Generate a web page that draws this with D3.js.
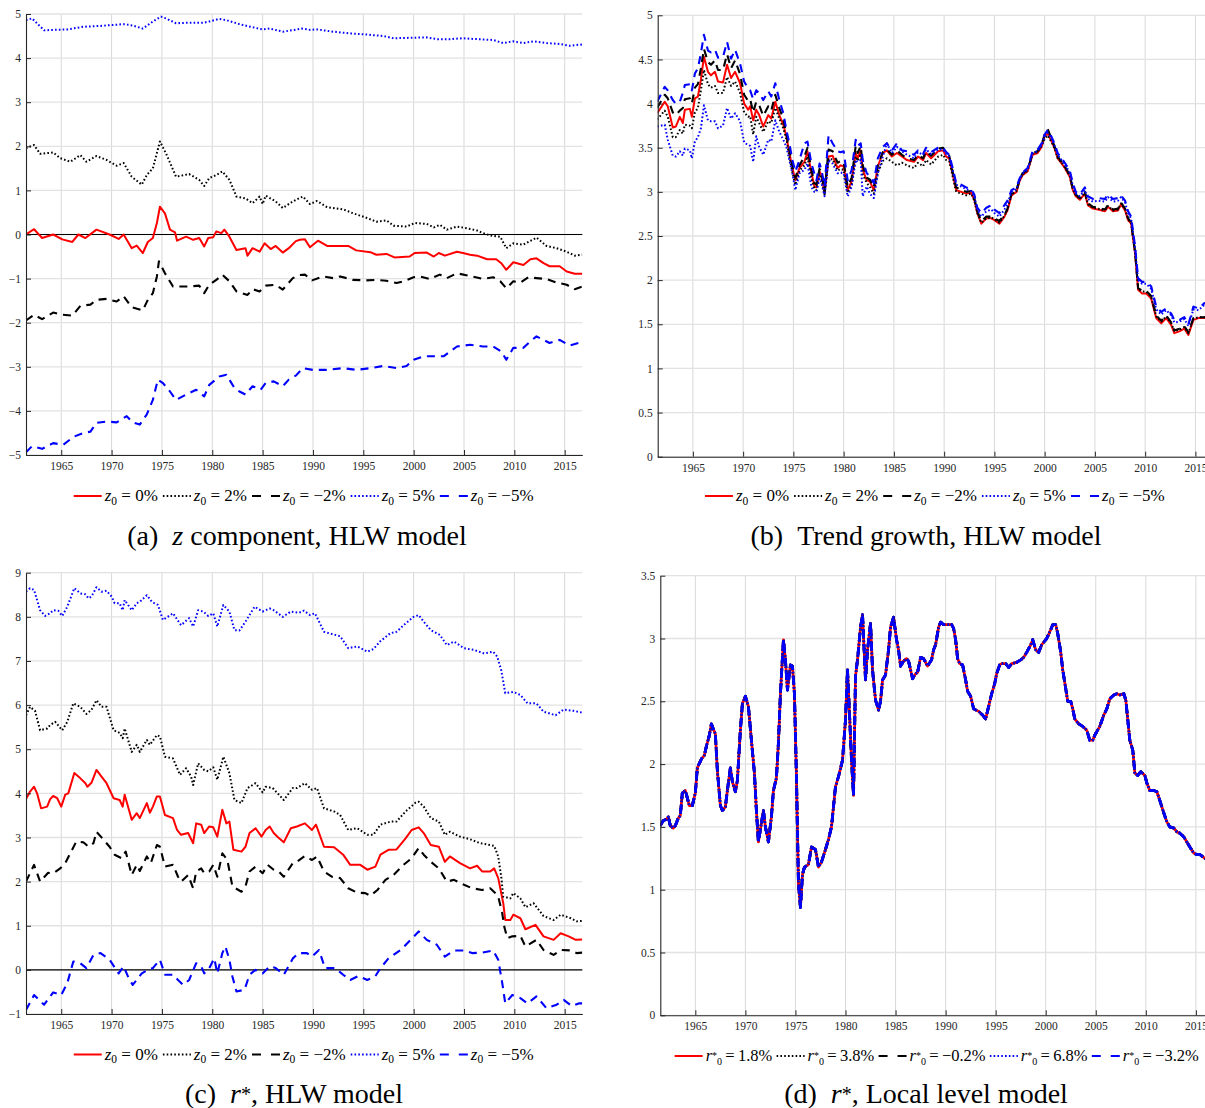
<!DOCTYPE html>
<html><head><meta charset="utf-8">
<script src="https://cdn.jsdelivr.net/npm/d3@7"></script>
<style>
body{margin:0;background:#fff;}
svg{display:block;font-family:"Liberation Serif","Times New Roman",serif;}
</style></head><body>
<svg id="fig" width="1205" height="1108"></svg>
<script>
// ---------- shared axes ----------
const xDomain = [1961.5, 2016.75];
const yearTicks = [1965,1970,1975,1980,1985,1990,1995,2000,2005,2010,2015];
const ticksA = [-5,-4,-3,-2,-1,0,1,2,3,4,5];
const ticksB = [0,0.5,1,1.5,2,2.5,3,3.5,4,4.5,5];
const ticksC = [-1,0,1,2,3,4,5,6,7,8,9];
const ticksD = [0,0.5,1,1.5,2,2.5,3,3.5];
const zLabels = ["0%","2%","\u22122%","5%","\u22125%"];
const rLabels = ["1.8%","3.8%","\u22120.2%","6.8%","\u22123.2%"];

// ---------- (a) z component, HLW model : [year, value] ----------
const aZ0 = [[1961.5,0],[1962.3,0.12],[1963.1,-0.08],[1964.2,0],[1965.1,-0.11],[1966.1,-0.17],[1966.7,0],[1967.4,-0.08],[1968.5,0.11],[1969.8,0],[1970.7,-0.1],[1971.2,0],[1972,-0.31],[1972.5,-0.25],[1973.1,-0.42],[1973.6,-0.17],[1974.1,-0.08],[1974.5,0.26],[1974.8,0.63],[1975.3,0.48],[1975.8,0.11],[1976.3,0.05],[1976.5,-0.14],[1977.4,-0.05],[1978.1,-0.12],[1978.7,-0.08],[1979.2,-0.27],[1979.6,-0.08],[1980.1,-0.06],[1980.4,0.07],[1980.9,0.03],[1981.2,0.11],[1981.7,-0.05],[1982.4,-0.35],[1983.3,-0.31],[1983.5,-0.48],[1984,-0.31],[1984.7,-0.39],[1985.2,-0.2],[1985.8,-0.33],[1986.3,-0.26],[1987,-0.41],[1987.6,-0.31],[1988.3,-0.15],[1988.7,-0.12],[1989.2,-0.11],[1989.7,-0.29],[1990.5,-0.14],[1991.4,-0.26],[1992.4,-0.26],[1993.5,-0.26],[1994.3,-0.36],[1995.7,-0.4],[1996.3,-0.46],[1997.3,-0.44],[1998.1,-0.52],[1999.6,-0.5],[2000.1,-0.42],[2001.3,-0.41],[2002,-0.5],[2002.5,-0.42],[2003.1,-0.48],[2004.3,-0.39],[2004.9,-0.42],[2005.6,-0.46],[2006.3,-0.48],[2007.3,-0.56],[2008.2,-0.56],[2008.7,-0.65],[2009.2,-0.8],[2009.9,-0.63],[2010.9,-0.69],[2011.6,-0.56],[2012.2,-0.54],[2012.9,-0.65],[2013.5,-0.72],[2014.5,-0.72],[2015.2,-0.84],[2016,-0.89],[2016.75,-0.89]];
const aZ2 = [[1961.5,1.96],[1962.3,2.03],[1962.9,1.83],[1964.2,1.86],[1964.9,1.73],[1965.9,1.65],[1966.9,1.8],[1967.5,1.65],[1968.5,1.78],[1969.5,1.69],[1970.5,1.56],[1971.2,1.62],[1972,1.31],[1973,1.13],[1973.5,1.35],[1974.1,1.5],[1974.8,2.11],[1975.4,1.84],[1976.4,1.31],[1977.7,1.37],[1978.7,1.24],[1979.2,1.1],[1979.7,1.28],[1980.4,1.35],[1981,1.43],[1981.7,1.24],[1982.4,0.86],[1983.3,0.82],[1984,0.71],[1984.7,0.86],[1985,0.69],[1985.3,0.88],[1986.3,0.75],[1987,0.6],[1988,0.75],[1988.6,0.82],[1989,0.86],[1989.7,0.69],[1990.4,0.76],[1991.4,0.62],[1993,0.57],[1994,0.48],[1995.3,0.38],[1996.3,0.29],[1997.3,0.32],[1998,0.2],[1999.3,0.18],[2000.1,0.26],[2001.3,0.24],[2002,0.16],[2002.6,0.22],[2003.3,0.11],[2004.3,0.18],[2005.3,0.14],[2006.3,0.09],[2006.9,0.03],[2007.6,-0.02],[2008.6,-0.05],[2009.2,-0.31],[2009.9,-0.2],[2010.9,-0.23],[2012.2,-0.07],[2013.2,-0.26],[2014.2,-0.31],[2015.2,-0.39],[2016,-0.48],[2016.75,-0.46]];
const aZm2 = [[1961.5,-1.95],[1962.3,-1.82],[1963.1,-1.92],[1964.2,-1.77],[1965.1,-1.82],[1966.1,-1.84],[1966.9,-1.62],[1967.9,-1.59],[1968.5,-1.48],[1969.5,-1.46],[1970.5,-1.52],[1971.2,-1.4],[1972,-1.65],[1973.1,-1.72],[1973.6,-1.48],[1974.1,-1.33],[1974.5,-0.95],[1974.7,-0.61],[1975.3,-0.88],[1976.1,-1.18],[1976.9,-1.18],[1977.7,-1.18],[1978.7,-1.16],[1979.2,-1.33],[1979.7,-1.14],[1980.4,-1.03],[1981,-0.91],[1981.7,-1.06],[1982.4,-1.29],[1983.5,-1.37],[1984,-1.24],[1984.7,-1.29],[1985.3,-1.16],[1986.3,-1.14],[1987,-1.25],[1988,-0.99],[1988.6,-0.92],[1989.2,-0.91],[1989.9,-1.04],[1991,-0.95],[1992,-0.99],[1992.7,-0.95],[1994,-1.03],[1995.3,-1.04],[1996.3,-1.03],[1997.3,-1.05],[1998.3,-1.1],[1999,-1.06],[2000,-0.97],[2000.6,-0.95],[2001.6,-1.01],[2002.6,-0.91],[2003.3,-0.99],[2004.3,-0.88],[2005.6,-0.94],[2006.9,-1.01],[2007.9,-0.97],[2008.6,-1.06],[2009.2,-1.22],[2009.9,-1.06],[2010.6,-1.09],[2011.4,-0.97],[2012.2,-0.99],[2013.2,-1.01],[2014.2,-1.09],[2015.2,-1.14],[2016,-1.24],[2016.75,-1.18]];
const aZ5 = [[1961.5,4.86],[1962.1,4.9],[1963.3,4.63],[1964.2,4.64],[1965.6,4.65],[1967.2,4.71],[1968.9,4.73],[1971.2,4.77],[1972.1,4.74],[1973.1,4.67],[1974.1,4.83],[1974.9,4.94],[1975.4,4.9],[1976.4,4.79],[1977.4,4.8],[1979.1,4.8],[1979.7,4.83],[1980.7,4.89],[1981.4,4.86],[1982.7,4.77],[1984,4.7],[1985,4.65],[1985.7,4.67],[1987,4.6],[1987.6,4.62],[1988.9,4.67],[1989.7,4.64],[1990.4,4.65],[1992,4.6],[1993.7,4.56],[1995,4.54],[1997,4.5],[1998,4.45],[1999.6,4.46],[2001.3,4.47],[2002.3,4.43],[2003.6,4.43],[2004.9,4.45],[2006.3,4.43],[2007.9,4.41],[2008.9,4.34],[2009.9,4.38],[2010.9,4.34],[2011.9,4.38],[2013.2,4.34],[2014.5,4.32],[2015.5,4.28],[2016.75,4.31]];
const aZm5 = [[1961.5,-4.94],[1962.1,-4.8],[1963.1,-4.86],[1964.2,-4.73],[1965.2,-4.77],[1966.2,-4.59],[1967.2,-4.5],[1967.9,-4.47],[1968.5,-4.27],[1969.5,-4.24],[1970.5,-4.26],[1971.5,-4.12],[1972.1,-4.26],[1972.8,-4.31],[1973.5,-4.08],[1974.1,-3.75],[1974.6,-3.29],[1975.1,-3.37],[1975.8,-3.56],[1976.4,-3.75],[1977.4,-3.63],[1978.4,-3.52],[1979.2,-3.67],[1979.7,-3.41],[1980.7,-3.22],[1981.4,-3.18],[1982.2,-3.48],[1982.7,-3.56],[1983.3,-3.63],[1984,-3.44],[1984.8,-3.52],[1985.3,-3.37],[1986.1,-3.33],[1987,-3.44],[1987.6,-3.29],[1988.3,-3.2],[1989,-3.03],[1990,-3.07],[1991.4,-3.07],[1993,-3.03],[1994.3,-3.07],[1995.7,-3.03],[1997,-2.98],[1998.3,-3.03],[1999.3,-2.98],[2000,-2.84],[2001,-2.76],[2002,-2.76],[2003,-2.76],[2004.3,-2.54],[2005.6,-2.5],[2006.9,-2.54],[2007.9,-2.54],[2008.7,-2.65],[2009.2,-2.84],[2009.9,-2.57],[2010.9,-2.57],[2011.6,-2.42],[2012.2,-2.31],[2013.5,-2.46],[2014.5,-2.39],[2015.5,-2.52],[2016.4,-2.46],[2016.75,-2.45]];

// ---------- (b) Trend growth, HLW model ----------
const bYears = [1961.45,1962.2,1962.5,1963,1963.3,1963.7,1964,1964.2,1964.7,1964.9,
1965.2,1965.5,1965.8,1966.1,1966.5,1966.8,1967.2,1967.5,1968,1968.4,
1968.8,1969.2,1969.7,1970.1,1970.5,1970.7,1971,1971.3,1971.6,1972,
1972.5,1972.8,1973.2,1973.6,1974,1974.3,1974.6,1974.9,1975.2,1975.6,
1976.1,1976.4,1976.8,1977.1,1977.3,1977.6,1977.8,1978.1,1978.5,1978.9,
1979.4,1979.7,1980,1980.4,1980.8,1981.2,1981.4,1981.7,1981.9,1982.3,
1982.6,1983,1983.4,1983.9,1984.3,1984.8,1985.3,1985.8,1986.3,1987,
1987.4,1987.9,1988.2,1988.7,1989.4,1989.9,1990.2,1990.5,1990.9,1991.2,
1991.7,1992.2,1992.7,1993,1993.3,1993.7,1994.2,1994.7,1995,1995.5,
1996,1996.3,1996.7,1997.2,1997.5,1997.8,1998.3,1998.8,1999.3,1999.7,
2000,2000.3,2000.7,2001,2001.3,2001.7,2002,2002.5,2002.8,2003.1,
2003.5,2004,2004.3,2004.8,2005.3,2006,2006.3,2006.8,2007.3,2007.6,
2008,2008.3,2008.6,2009,2009.3,2009.7,2010.1,2010.6,2011.1,2011.6,
2012.1,2012.6,2012.9,2013.4,2013.9,2014.3,2014.8,2015.3,2015.9,2016.75];
const bZ0 = [3.89,4.02,3.97,3.73,3.74,3.85,3.78,3.93,3.94,3.85,
4.06,4.08,4.27,4.53,4.36,4.32,4.36,4.25,4.24,4.44,
4.29,4.36,4.23,4.0,3.93,3.97,3.81,3.93,3.87,3.74,
3.87,3.83,4.02,3.87,3.76,3.63,3.44,3.27,3.13,3.27,
3.34,3.46,3.21,3.06,3.05,3.23,3.19,2.98,3.4,3.41,
3.27,3.3,3.29,3.02,3.12,3.44,3.38,3.47,3.25,3.13,
3.12,3.02,3.29,3.44,3.47,3.4,3.44,3.4,3.36,3.34,
3.4,3.36,3.44,3.38,3.46,3.47,3.4,3.38,3.17,3.02,
3.0,2.98,2.99,2.91,2.76,2.64,2.7,2.7,2.68,2.64,
2.72,2.79,2.96,3.0,3.12,3.19,3.23,3.42,3.44,3.51,
3.63,3.66,3.57,3.49,3.38,3.32,3.27,3.17,3.02,2.95,
2.91,2.98,2.85,2.81,2.8,2.78,2.83,2.78,2.79,2.86,
2.79,2.68,2.64,2.3,1.89,1.85,1.85,1.79,1.57,1.51,
1.57,1.49,1.4,1.42,1.45,1.38,1.55,1.57,1.57,1.57];
const bZ2 = [3.82,3.92,3.85,3.62,3.62,3.7,3.66,3.76,3.75,3.72,
3.9,3.95,4.15,4.38,4.22,4.18,4.2,4.12,4.12,4.3,
4.2,4.25,4.12,3.9,3.85,3.86,3.65,3.85,3.78,3.68,
3.8,3.78,3.95,3.83,3.72,3.6,3.4,3.22,3.08,3.24,
3.3,3.4,3.15,3.03,3.02,3.2,3.15,2.97,3.37,3.37,
3.24,3.26,3.25,2.99,3.08,3.4,3.35,3.43,3.2,3.1,
3.06,2.98,3.22,3.35,3.38,3.34,3.3,3.33,3.3,3.27,
3.33,3.29,3.36,3.31,3.4,3.42,3.36,3.35,3.15,3.0,
2.98,2.96,2.98,2.9,2.76,2.65,2.7,2.71,2.69,2.65,
2.73,2.8,2.97,3.01,3.13,3.2,3.24,3.43,3.45,3.52,
3.6,3.64,3.56,3.49,3.38,3.33,3.28,3.18,3.03,2.96,
2.92,2.99,2.86,2.82,2.81,2.79,2.84,2.79,2.8,2.87,
2.8,2.69,2.65,2.31,1.9,1.87,1.87,1.81,1.59,1.53,
1.59,1.51,1.42,1.44,1.47,1.4,1.56,1.58,1.58,1.58];
const bZm2 = [3.95,4.1,4.06,3.9,3.87,3.92,3.95,4.05,4.06,4.0,
4.18,4.22,4.4,4.62,4.47,4.44,4.49,4.38,4.38,4.56,
4.4,4.49,4.33,4.1,4.03,4.05,3.9,4.02,3.98,3.86,
3.97,3.92,4.1,3.95,3.82,3.66,3.47,3.3,3.16,3.3,
3.4,3.5,3.25,3.1,3.08,3.26,3.22,3.0,3.48,3.46,
3.33,3.35,3.34,3.06,3.16,3.52,3.44,3.52,3.3,3.16,
3.14,3.05,3.3,3.45,3.48,3.42,3.47,3.42,3.38,3.36,
3.42,3.38,3.46,3.41,3.49,3.5,3.43,3.41,3.2,3.05,
3.02,3.0,3.01,2.93,2.78,2.67,2.72,2.72,2.7,2.67,
2.74,2.81,2.98,3.02,3.14,3.21,3.25,3.44,3.46,3.54,
3.65,3.71,3.6,3.51,3.4,3.34,3.29,3.19,3.04,2.97,
2.93,3.0,2.87,2.83,2.82,2.8,2.85,2.8,2.81,2.88,
2.81,2.7,2.66,2.32,1.91,1.88,1.88,1.82,1.6,1.54,
1.6,1.52,1.43,1.45,1.48,1.41,1.57,1.58,1.58,1.58];
const bZ5 = [3.74,3.76,3.59,3.41,3.4,3.46,3.41,3.49,3.47,3.38,
3.57,3.62,3.72,3.98,3.81,3.8,3.8,3.72,3.75,3.95,
3.83,3.89,3.8,3.56,3.53,3.52,3.34,3.63,3.51,3.42,
3.59,3.57,3.81,3.68,3.59,3.51,3.36,3.21,3.02,3.21,
3.25,3.32,3.05,3.0,3.0,3.15,3.1,2.95,3.36,3.32,
3.21,3.22,3.21,2.95,3.06,3.36,3.34,3.36,2.95,3.06,
2.98,2.93,3.21,3.4,3.55,3.44,3.51,3.46,3.42,3.38,
3.45,3.42,3.48,3.43,3.48,3.48,3.43,3.4,3.22,3.08,
3.06,3.03,3.01,2.95,2.8,2.72,2.78,2.8,2.76,2.72,
2.8,2.86,3.0,3.03,3.14,3.21,3.25,3.44,3.46,3.53,
3.63,3.67,3.6,3.52,3.42,3.36,3.31,3.22,3.07,2.98,
2.95,3.02,2.92,2.89,2.9,2.89,2.94,2.89,2.9,2.94,
2.88,2.76,2.7,2.36,2.0,1.96,1.96,1.9,1.67,1.61,
1.66,1.6,1.52,1.53,1.56,1.48,1.67,1.66,1.72,1.68];
const bZm5 = [4.02,4.19,4.15,4.04,4.0,4.02,4.12,4.21,4.22,4.15,
4.34,4.4,4.57,4.78,4.6,4.58,4.61,4.52,4.53,4.7,
4.51,4.61,4.45,4.25,4.17,4.15,4.05,4.15,4.12,4.04,
4.14,4.08,4.23,4.04,3.89,3.7,3.55,3.36,3.23,3.36,
3.55,3.57,3.32,3.2,3.13,3.32,3.25,3.06,3.64,3.55,
3.46,3.45,3.46,3.13,3.25,3.59,3.52,3.55,3.36,3.21,
3.18,3.1,3.38,3.51,3.55,3.47,3.55,3.47,3.46,3.42,
3.47,3.43,3.5,3.45,3.5,3.5,3.45,3.42,3.25,3.1,
3.08,3.05,3.03,2.97,2.82,2.76,2.82,2.85,2.8,2.76,
2.85,2.9,3.02,3.05,3.15,3.22,3.27,3.46,3.48,3.55,
3.65,3.7,3.62,3.54,3.44,3.38,3.33,3.24,3.1,3.0,
2.97,3.05,2.95,2.92,2.93,2.92,2.97,2.92,2.93,2.96,
2.9,2.78,2.72,2.38,2.02,1.98,1.98,1.93,1.7,1.64,
1.68,1.62,1.55,1.55,1.58,1.5,1.7,1.68,1.74,1.7];

// ---------- (c) r*, HLW model : [year, value] ----------
const cZ0 = [[1961.5,3.87],[1961.9,4.04],[1962.3,4.15],[1962.6,4.0],[1963,3.66],[1963.6,3.7],[1963.9,3.87],[1964.2,3.94],[1964.6,3.89],[1965,3.7],[1965.4,3.97],[1965.7,4.0],[1966.3,4.46],[1966.9,4.34],[1967.4,4.23],[1967.6,4.15],[1968,4.24],[1968.5,4.53],[1969,4.38],[1969.5,4.23],[1970.2,3.89],[1970.8,3.85],[1971.1,3.7],[1971.3,3.97],[1972,3.4],[1972.5,3.55],[1972.8,3.44],[1973.5,3.78],[1973.8,3.56],[1974.1,3.7],[1974.5,3.93],[1974.8,3.93],[1975.3,3.51],[1976.1,3.44],[1976.5,3.17],[1976.9,3.06],[1977.6,3.1],[1978.1,2.87],[1978.4,3.32],[1978.9,3.29],[1979.2,3.1],[1979.7,3.25],[1980.1,3.23],[1980.5,3.02],[1981,3.63],[1981.4,3.32],[1981.7,3.36],[1982.1,2.72],[1982.9,2.68],[1983.3,2.79],[1983.7,3.1],[1984.3,3.21],[1984.9,3.02],[1985.3,3.17],[1985.7,3.25],[1986.1,3.1],[1986.5,3.01],[1987.1,2.89],[1987.8,3.21],[1988.4,3.25],[1989.2,3.32],[1989.9,3.17],[1990.3,3.29],[1991.1,2.79],[1992.1,2.78],[1993,2.61],[1993.7,2.38],[1994.7,2.38],[1995.4,2.27],[1996.2,2.34],[1996.7,2.61],[1997.5,2.72],[1998.3,2.73],[1999.2,2.98],[1999.8,3.17],[2000.5,3.23],[2001,3.1],[2001.7,2.83],[2002.5,2.79],[2003.1,2.45],[2003.6,2.57],[2004.6,2.42],[2005.6,2.3],[2006.3,2.36],[2006.8,2.23],[2007.6,2.23],[2008,2.3],[2008.4,2.08],[2008.9,1.51],[2009.1,1.13],[2009.6,1.13],[2009.9,1.25],[2010.6,1.17],[2011.1,0.92],[2012.1,1.02],[2012.9,0.76],[2013.9,0.68],[2014.6,0.83],[2015.4,0.76],[2016.1,0.68],[2016.75,0.69]];
const cZ2 = [[1961.5,5.77],[1961.9,5.96],[1962.4,5.87],[1962.9,5.43],[1963.6,5.47],[1963.9,5.55],[1964.4,5.62],[1965.1,5.43],[1965.6,5.62],[1966.2,6.04],[1966.9,5.96],[1967.5,5.8],[1968,5.89],[1968.5,6.11],[1969,5.96],[1969.5,5.96],[1970.2,5.43],[1970.8,5.37],[1971.1,5.25],[1971.3,5.47],[1972,4.94],[1972.5,5.1],[1972.8,4.94],[1973.5,5.21],[1973.8,5.1],[1974.5,5.32],[1974.8,5.29],[1975.3,4.83],[1976.1,4.79],[1976.8,4.42],[1977.4,4.57],[1977.9,4.38],[1978.1,4.19],[1978.6,4.68],[1979.2,4.53],[1979.6,4.5],[1980.1,4.59],[1980.5,4.31],[1981.1,4.83],[1981.7,4.46],[1982.2,3.85],[1982.9,3.78],[1983.5,4.12],[1984.3,4.23],[1985,4.02],[1985.3,4.15],[1986,4.12],[1986.5,4.0],[1987.1,3.85],[1988,4.12],[1988.4,4.12],[1989.2,4.23],[1989.9,4.08],[1990.4,4.12],[1991.1,3.66],[1992.1,3.59],[1992.7,3.51],[1993.5,3.17],[1994.4,3.21],[1995.4,3.06],[1996,3.06],[1996.7,3.29],[1997.7,3.36],[1998.3,3.36],[1999.2,3.59],[2000.2,3.79],[2000.5,3.81],[2001,3.7],[2001.7,3.44],[2002.5,3.36],[2003.1,3.06],[2003.6,3.13],[2004.6,3.02],[2005.6,2.96],[2006.6,2.87],[2007.6,2.83],[2008,2.81],[2008.4,2.57],[2008.7,2.11],[2008.9,1.66],[2009.6,1.62],[2009.9,1.74],[2010.6,1.62],[2011.1,1.42],[2011.9,1.51],[2012.9,1.22],[2013.9,1.13],[2014.6,1.25],[2015.6,1.17],[2016.2,1.1],[2016.75,1.11]];
const cZm2 = [[1961.5,2.0],[1962.3,2.38],[1962.9,2.0],[1963.7,2.2],[1964.2,2.19],[1964.9,2.3],[1965.4,2.42],[1965.9,2.64],[1966.5,2.91],[1967.2,2.89],[1967.7,2.79],[1968.2,2.87],[1968.5,3.13],[1969.2,2.95],[1969.8,2.79],[1970.3,2.61],[1971,2.53],[1971.4,2.68],[1972,2.15],[1972.5,2.38],[1972.8,2.24],[1973.5,2.57],[1973.9,2.42],[1974.5,2.83],[1974.8,2.79],[1975.3,2.34],[1976.1,2.38],[1976.6,2.11],[1976.9,2.0],[1977.6,2.15],[1978.1,1.85],[1978.4,2.23],[1978.9,2.3],[1979.2,2.19],[1979.7,2.23],[1980.1,2.38],[1980.5,2.11],[1981,2.64],[1981.5,2.49],[1982,1.89],[1982.9,1.77],[1983.3,1.89],[1983.7,2.23],[1984.3,2.34],[1985,2.19],[1985.5,2.38],[1986.1,2.27],[1986.6,2.23],[1987.1,2.11],[1988,2.42],[1988.4,2.45],[1989.2,2.58],[1989.9,2.49],[1990.4,2.57],[1991.1,2.23],[1991.9,2.11],[1992.7,2.08],[1993.5,1.85],[1994.4,1.75],[1995.2,1.74],[1995.7,1.68],[1996.4,1.81],[1997.2,2.04],[1998,2.15],[1999,2.38],[1999.8,2.53],[2000.5,2.76],[2001,2.61],[2001.7,2.45],[2002.5,2.3],[2003.3,2.0],[2004,2.04],[2005,1.93],[2005.8,1.85],[2006.8,1.81],[2007.6,1.85],[2008.1,1.74],[2008.4,1.66],[2008.8,1.28],[2009,0.98],[2009.3,0.72],[2009.8,0.76],[2010.6,0.77],[2011.1,0.53],[2012.2,0.68],[2012.9,0.45],[2013.9,0.34],[2014.6,0.45],[2015.6,0.44],[2016.2,0.38],[2016.75,0.39]];
const cZ5 = [[1961.5,8.57],[1961.9,8.65],[1962.3,8.61],[1962.9,8.15],[1963.4,8.02],[1963.9,8.08],[1964.2,8.15],[1964.7,8.14],[1965.1,8.02],[1965.6,8.23],[1966.3,8.65],[1966.9,8.53],[1967.4,8.51],[1967.7,8.42],[1968,8.46],[1968.5,8.67],[1969,8.57],[1969.5,8.59],[1970,8.46],[1970.3,8.31],[1970.8,8.31],[1971.1,8.15],[1971.3,8.38],[1972,8.15],[1972.5,8.31],[1972.8,8.34],[1973.5,8.49],[1974,8.34],[1974.6,8.27],[1975.1,7.93],[1976.1,8.08],[1976.9,7.81],[1977.7,7.97],[1978.1,7.78],[1978.6,8.15],[1979.1,8.12],[1979.6,8.02],[1980.1,8.08],[1980.5,7.78],[1981.1,8.27],[1981.7,8.12],[1982.2,7.7],[1982.7,7.69],[1983.3,7.89],[1984.2,8.23],[1985,8.12],[1985.7,8.19],[1986.1,8.15],[1987,8.0],[1987.8,8.12],[1988.6,8.09],[1989.1,8.14],[1989.7,8.04],[1990.2,8.08],[1991.1,7.66],[1992.7,7.56],[1993.5,7.29],[1994.4,7.33],[1995.4,7.21],[1996,7.27],[1996.7,7.45],[1997.7,7.63],[1998.3,7.66],[1999.2,7.85],[2000,8.0],[2000.5,8.04],[2001,7.89],[2001.7,7.7],[2002.6,7.59],[2003.3,7.36],[2004,7.44],[2005,7.29],[2006,7.25],[2007,7.17],[2007.9,7.21],[2008.3,7.1],[2008.7,6.79],[2009.1,6.27],[2009.9,6.3],[2010.6,6.23],[2011.3,6.04],[2012.2,6.04],[2012.9,5.85],[2014.1,5.77],[2014.9,5.9],[2015.9,5.87],[2016.75,5.83]];
const cZm5 = [[1961.5,-0.91],[1962.3,-0.57],[1963.3,-0.79],[1964.2,-0.51],[1965,-0.57],[1965.6,-0.3],[1966.2,0.19],[1966.9,0.15],[1967.5,0.04],[1968.2,0.34],[1968.9,0.38],[1969.8,0.23],[1970.7,-0.08],[1971.2,0.08],[1971.7,-0.19],[1972.1,-0.34],[1973,-0.08],[1973.6,0],[1974.1,0.04],[1974.8,0.23],[1975.3,-0.11],[1976.1,-0.11],[1976.6,-0.23],[1977.1,-0.34],[1977.7,-0.23],[1978.4,0.15],[1978.9,0.08],[1979.2,-0.08],[1979.7,0.04],[1980.2,0.26],[1980.5,-0.08],[1981,0.38],[1981.3,0.53],[1981.7,0.23],[1982,-0.15],[1982.4,-0.49],[1983.2,-0.45],[1983.7,-0.11],[1984.3,0],[1985,-0.08],[1985.7,0.08],[1986.3,0.04],[1987.1,-0.11],[1988,0.26],[1988.6,0.38],[1989.4,0.38],[1989.9,0.3],[1990.6,0.45],[1991.2,0.04],[1992.2,0.04],[1993,-0.11],[1993.7,-0.23],[1994.5,-0.14],[1995.4,-0.23],[1996.2,-0.14],[1996.7,0.04],[1997.5,0.26],[1998.7,0.45],[1999.7,0.68],[2000.5,0.87],[2001.3,0.68],[2002.3,0.57],[2003.1,0.3],[2004,0.44],[2005,0.44],[2005.8,0.38],[2006.8,0.39],[2007.9,0.44],[2008.4,0.23],[2008.8,-0.3],[2009.1,-0.76],[2009.8,-0.57],[2010.6,-0.64],[2011.3,-0.76],[2012.2,-0.6],[2013.2,-0.87],[2014.2,-0.79],[2014.9,-0.68],[2015.7,-0.82],[2016.4,-0.76],[2016.75,-0.76]];

// ---------- (d) r*, Local level model (the five starting values give the same path) ----------
const dLocal = [[1961.5,1.51],[1961.8,1.55],[1962.1,1.56],[1962.3,1.58],[1962.5,1.51],[1962.8,1.49],[1963,1.51],[1963.3,1.57],[1963.5,1.59],[1963.7,1.77],[1964,1.79],[1964.4,1.67],[1964.7,1.67],[1965,1.77],[1965.2,1.97],[1965.6,2.04],[1965.9,2.07],[1966.1,2.14],[1966.4,2.23],[1966.6,2.32],[1967,2.24],[1967.2,1.95],[1967.5,1.67],[1967.7,1.63],[1968,1.66],[1968.2,1.79],[1968.5,1.97],[1968.7,1.86],[1969,1.78],[1969.2,1.87],[1969.5,2.27],[1969.7,2.48],[1970,2.54],[1970.3,2.46],[1970.6,2.19],[1970.9,1.93],[1971.1,1.63],[1971.3,1.38],[1971.5,1.48],[1971.8,1.63],[1972,1.5],[1972.3,1.38],[1972.6,1.58],[1972.8,1.79],[1973.1,1.89],[1973.3,2.17],[1973.5,2.56],[1973.8,2.99],[1974,2.83],[1974.2,2.59],[1974.5,2.79],[1974.7,2.78],[1974.9,2.56],[1975.1,1.9],[1975.3,1.05],[1975.5,0.86],[1975.7,1.12],[1975.9,1.18],[1976.3,1.2],[1976.6,1.34],[1977,1.32],[1977.3,1.18],[1977.6,1.22],[1978,1.32],[1978.3,1.4],[1978.6,1.5],[1979,1.82],[1979.3,1.9],[1979.7,2.03],[1980,2.35],[1980.2,2.75],[1980.4,2.4],[1980.6,2.03],[1980.8,1.75],[1981,2.7],[1981.2,2.83],[1981.5,3.09],[1981.7,3.19],[1982,2.67],[1982.2,2.91],[1982.5,3.12],[1982.7,2.75],[1983,2.51],[1983.3,2.43],[1983.5,2.5],[1983.7,2.67],[1984,2.71],[1984.3,2.91],[1984.5,3.09],[1984.8,3.17],[1985.1,2.99],[1985.3,2.91],[1985.5,2.78],[1985.8,2.82],[1986.1,2.84],[1986.3,2.82],[1986.7,2.68],[1987,2.72],[1987.2,2.73],[1987.5,2.85],[1987.8,2.84],[1988.2,2.78],[1988.6,2.83],[1988.8,2.91],[1989,2.95],[1989.3,3.09],[1989.5,3.13],[1989.8,3.11],[1990.1,3.11],[1990.6,3.11],[1990.8,3.08],[1991,2.99],[1991.2,2.84],[1991.4,2.8],[1991.7,2.79],[1992,2.67],[1992.2,2.58],[1992.5,2.54],[1992.8,2.44],[1993.3,2.42],[1993.7,2.39],[1994,2.36],[1994.3,2.46],[1994.6,2.56],[1994.9,2.64],[1995.1,2.72],[1995.4,2.79],[1995.6,2.8],[1996,2.8],[1996.3,2.77],[1996.6,2.8],[1997.1,2.81],[1997.5,2.83],[1997.8,2.85],[1998.1,2.89],[1998.5,2.95],[1998.7,2.99],[1999,2.91],[1999.3,2.89],[1999.6,2.95],[2000.1,3.0],[2000.5,3.07],[2000.7,3.11],[2001,3.11],[2001.2,3.04],[2001.5,2.89],[2001.7,2.75],[2002,2.6],[2002.2,2.5],[2002.5,2.5],[2002.7,2.44],[2002.9,2.36],[2003.3,2.32],[2003.7,2.3],[2004.1,2.27],[2004.4,2.19],[2004.7,2.19],[2004.9,2.23],[2005.4,2.3],[2005.8,2.39],[2006.1,2.44],[2006.4,2.52],[2006.8,2.55],[2007.1,2.56],[2007.4,2.55],[2007.8,2.56],[2008,2.51],[2008.2,2.35],[2008.4,2.19],[2008.7,2.11],[2008.9,1.93],[2009.2,1.91],[2009.5,1.94],[2009.9,1.91],[2010.1,1.85],[2010.4,1.79],[2010.8,1.79],[2011.1,1.78],[2011.4,1.71],[2011.8,1.61],[2012.1,1.54],[2012.4,1.5],[2012.8,1.49],[2013.1,1.46],[2013.4,1.45],[2013.8,1.42],[2014.1,1.38],[2014.4,1.34],[2014.8,1.29],[2015.1,1.28],[2015.4,1.28],[2015.9,1.25],[2016.75,1.22]];

// ---------- drawing ----------
const svg = d3.select("#fig");
const AXIS = "#262626";
const styles = [
  {stroke:"#ff0000", dash:null,      width:2},
  {stroke:"#000000", dash:"1.6,2.2", width:2},
  {stroke:"#000000", dash:"8,6",     width:2.1},
  {stroke:"#0000ff", dash:"1.6,2.2", width:2},
  {stroke:"#0000ff", dash:"8,6",     width:2.1}
];
const legendDash = [null, "1.6,2.2", "9,10", "1.6,2.2", "9,10"];

function drawPanel(p, idx) {
  const x = d3.scaleLinear().domain(xDomain).range([p.left, p.right]);
  const y = d3.scaleLinear().domain(p.yDomain).range([p.bottom, p.top]);
  const g = svg.append("g");

  g.append("clipPath").attr("id", "clip" + idx).append("rect")
    .attr("x", p.left).attr("y", p.top - 4).attr("width", p.right - p.left).attr("height", p.bottom - p.top + 8);

  // grid
  g.append("g").selectAll("line").data(yearTicks).join("line")
    .attr("x1", d => x(d)).attr("x2", d => x(d)).attr("y1", p.top).attr("y2", p.bottom)
    .attr("stroke", "#d8d8d8").attr("stroke-width", 1);
  g.append("g").selectAll("line").data(p.yTicks).join("line")
    .attr("x1", p.left).attr("x2", p.right).attr("y1", d => y(d)).attr("y2", d => y(d))
    .attr("stroke", "#e2e2e2").attr("stroke-width", 1.3);

  if (p.zeroLine) {
    g.append("line").attr("x1", p.left).attr("x2", p.right).attr("y1", y(0)).attr("y2", y(0))
      .attr("stroke", "#000").attr("stroke-width", 1.1);
  }

  const line = d3.line().x(d => x(d[0])).y(d => y(d[1]));
  const lines = g.append("g").attr("clip-path", `url(#clip${idx})`);
  p.series.forEach((s, i) => {
    const st = styles[i];
    lines.append("path").datum(s).attr("d", line)
      .attr("fill", "none").attr("stroke", st.stroke).attr("stroke-width", st.width * p.lineScale)
      .attr("stroke-dasharray", st.dash).attr("stroke-linejoin", "round");
  });

  const fmt = d3.format("~g");
  const ax = g.append("g").attr("transform", `translate(${p.left},0)`)
    .call(d3.axisLeft(y).tickValues(p.yTicks).tickFormat(fmt).tickSizeInner(-5).tickSizeOuter(0).tickPadding(5));
  const bx = g.append("g").attr("transform", `translate(0,${p.bottom})`)
    .call(d3.axisBottom(x).tickValues(yearTicks).tickFormat(d3.format("d")).tickSizeInner(-5).tickSizeOuter(0).tickPadding(7));
  [ax, bx].forEach(a => {
    a.attr("font-family", null).attr("font-size", 11.5);
    a.selectAll("text").attr("fill", AXIS);
    a.selectAll("line").attr("stroke", AXIS);
    a.select(".domain").attr("stroke", AXIS).attr("stroke-width", 1.1);
  });

  // legend
  const lg = svg.append("g");
  let cx = 0;
  p.legend.forEach((lab, i) => {
    const st = styles[i];
    lg.append("line").attr("x1", cx).attr("x2", cx + 28).attr("y1", 0).attr("y2", 0)
      .attr("stroke", st.stroke).attr("stroke-width", 2).attr("stroke-dasharray", legendDash[i]);
    cx += 31;
    const t = lg.append("text").attr("x", cx).attr("y", 5).attr("font-size", p.legendSize).attr("fill", "#000");
    if (p.legendVar === "z") {
      t.append("tspan").attr("font-style", "italic").text("z");
      t.append("tspan").attr("font-size", 11.5).attr("dy", 3.5).text("0");
      t.append("tspan").attr("dy", -3.5).text(" = " + lab);
    } else {
      t.append("tspan").attr("font-style", "italic").text("r");
      t.append("tspan").attr("font-size", 10).attr("dy", -2).text("*");
      t.append("tspan").attr("font-size", 10).attr("dy", 6).text("0");
      t.append("tspan").attr("dy", -4).text("\u2009=\u2009" + lab);
    }
    cx += t.node().getBBox().width + 4;
  });
  const total = cx - 4;
  lg.attr("transform", `translate(${(p.left + p.right) / 2 - total / 2},${p.legendY})`);

  // caption
  const cap = svg.append("text").attr("x", p.capX).attr("y", p.capY).attr("text-anchor", "middle")
    .attr("font-size", 28).attr("fill", "#000");
  p.caption(cap);
}

const panels = [
  {left:26, right:582.3, top:14, bottom:455, yDomain:[-5,5], yTicks:ticksA, zeroLine:true, lineScale:1,
   series:[aZ0, aZ2, aZm2, aZ5, aZm5], legend:zLabels, legendVar:"z", legendSize:17, legendY:496,
   capX:297, capY:545,
   caption: t => { t.append("tspan").text("(a)\u2002"); t.append("tspan").attr("font-style","italic").text("z"); t.append("tspan").text(" component, HLW model"); }},
  {left:657.7, right:1213, top:15.3, bottom:456.7, yDomain:[0,5], yTicks:ticksB, zeroLine:false, lineScale:1,
   series:[d3.zip(bYears,bZ0), d3.zip(bYears,bZ2), d3.zip(bYears,bZm2), d3.zip(bYears,bZ5), d3.zip(bYears,bZm5)],
   legend:zLabels, legendVar:"z", legendSize:17, legendY:496,
   capX:926, capY:545,
   caption: t => { t.append("tspan").text("(b)\u2002Trend growth, HLW model"); }},
  {left:26, right:582.3, top:572.7, bottom:1014, yDomain:[-1,9], yTicks:ticksC, zeroLine:true, lineScale:1,
   series:[cZ0, cZ2, cZm2, cZ5, cZm5], legend:zLabels, legendVar:"z", legendSize:17, legendY:1054.5,
   capX:294, capY:1103,
   caption: t => { t.append("tspan").text("(c)\u2002"); t.append("tspan").attr("font-style","italic").text("r"); t.append("tspan").attr("font-size",20).attr("dy",-2).text("*"); t.append("tspan").attr("dy",2).text(", HLW model"); }},
  {left:660.3, right:1213.4, top:575.7, bottom:1015.3, yDomain:[0,3.5], yTicks:ticksD, zeroLine:false, lineScale:1.35,
   series:[dLocal, dLocal, dLocal, dLocal, dLocal], legend:rLabels, legendVar:"r", legendSize:16.5, legendY:1056,
   capX:926, capY:1103,
   caption: t => { t.append("tspan").text("(d)\u2002"); t.append("tspan").attr("font-style","italic").text("r"); t.append("tspan").attr("font-size",20).attr("dy",-2).text("*"); t.append("tspan").attr("dy",2).text(", Local level model"); }}
];
panels.forEach(drawPanel);
</script>
</body></html>
